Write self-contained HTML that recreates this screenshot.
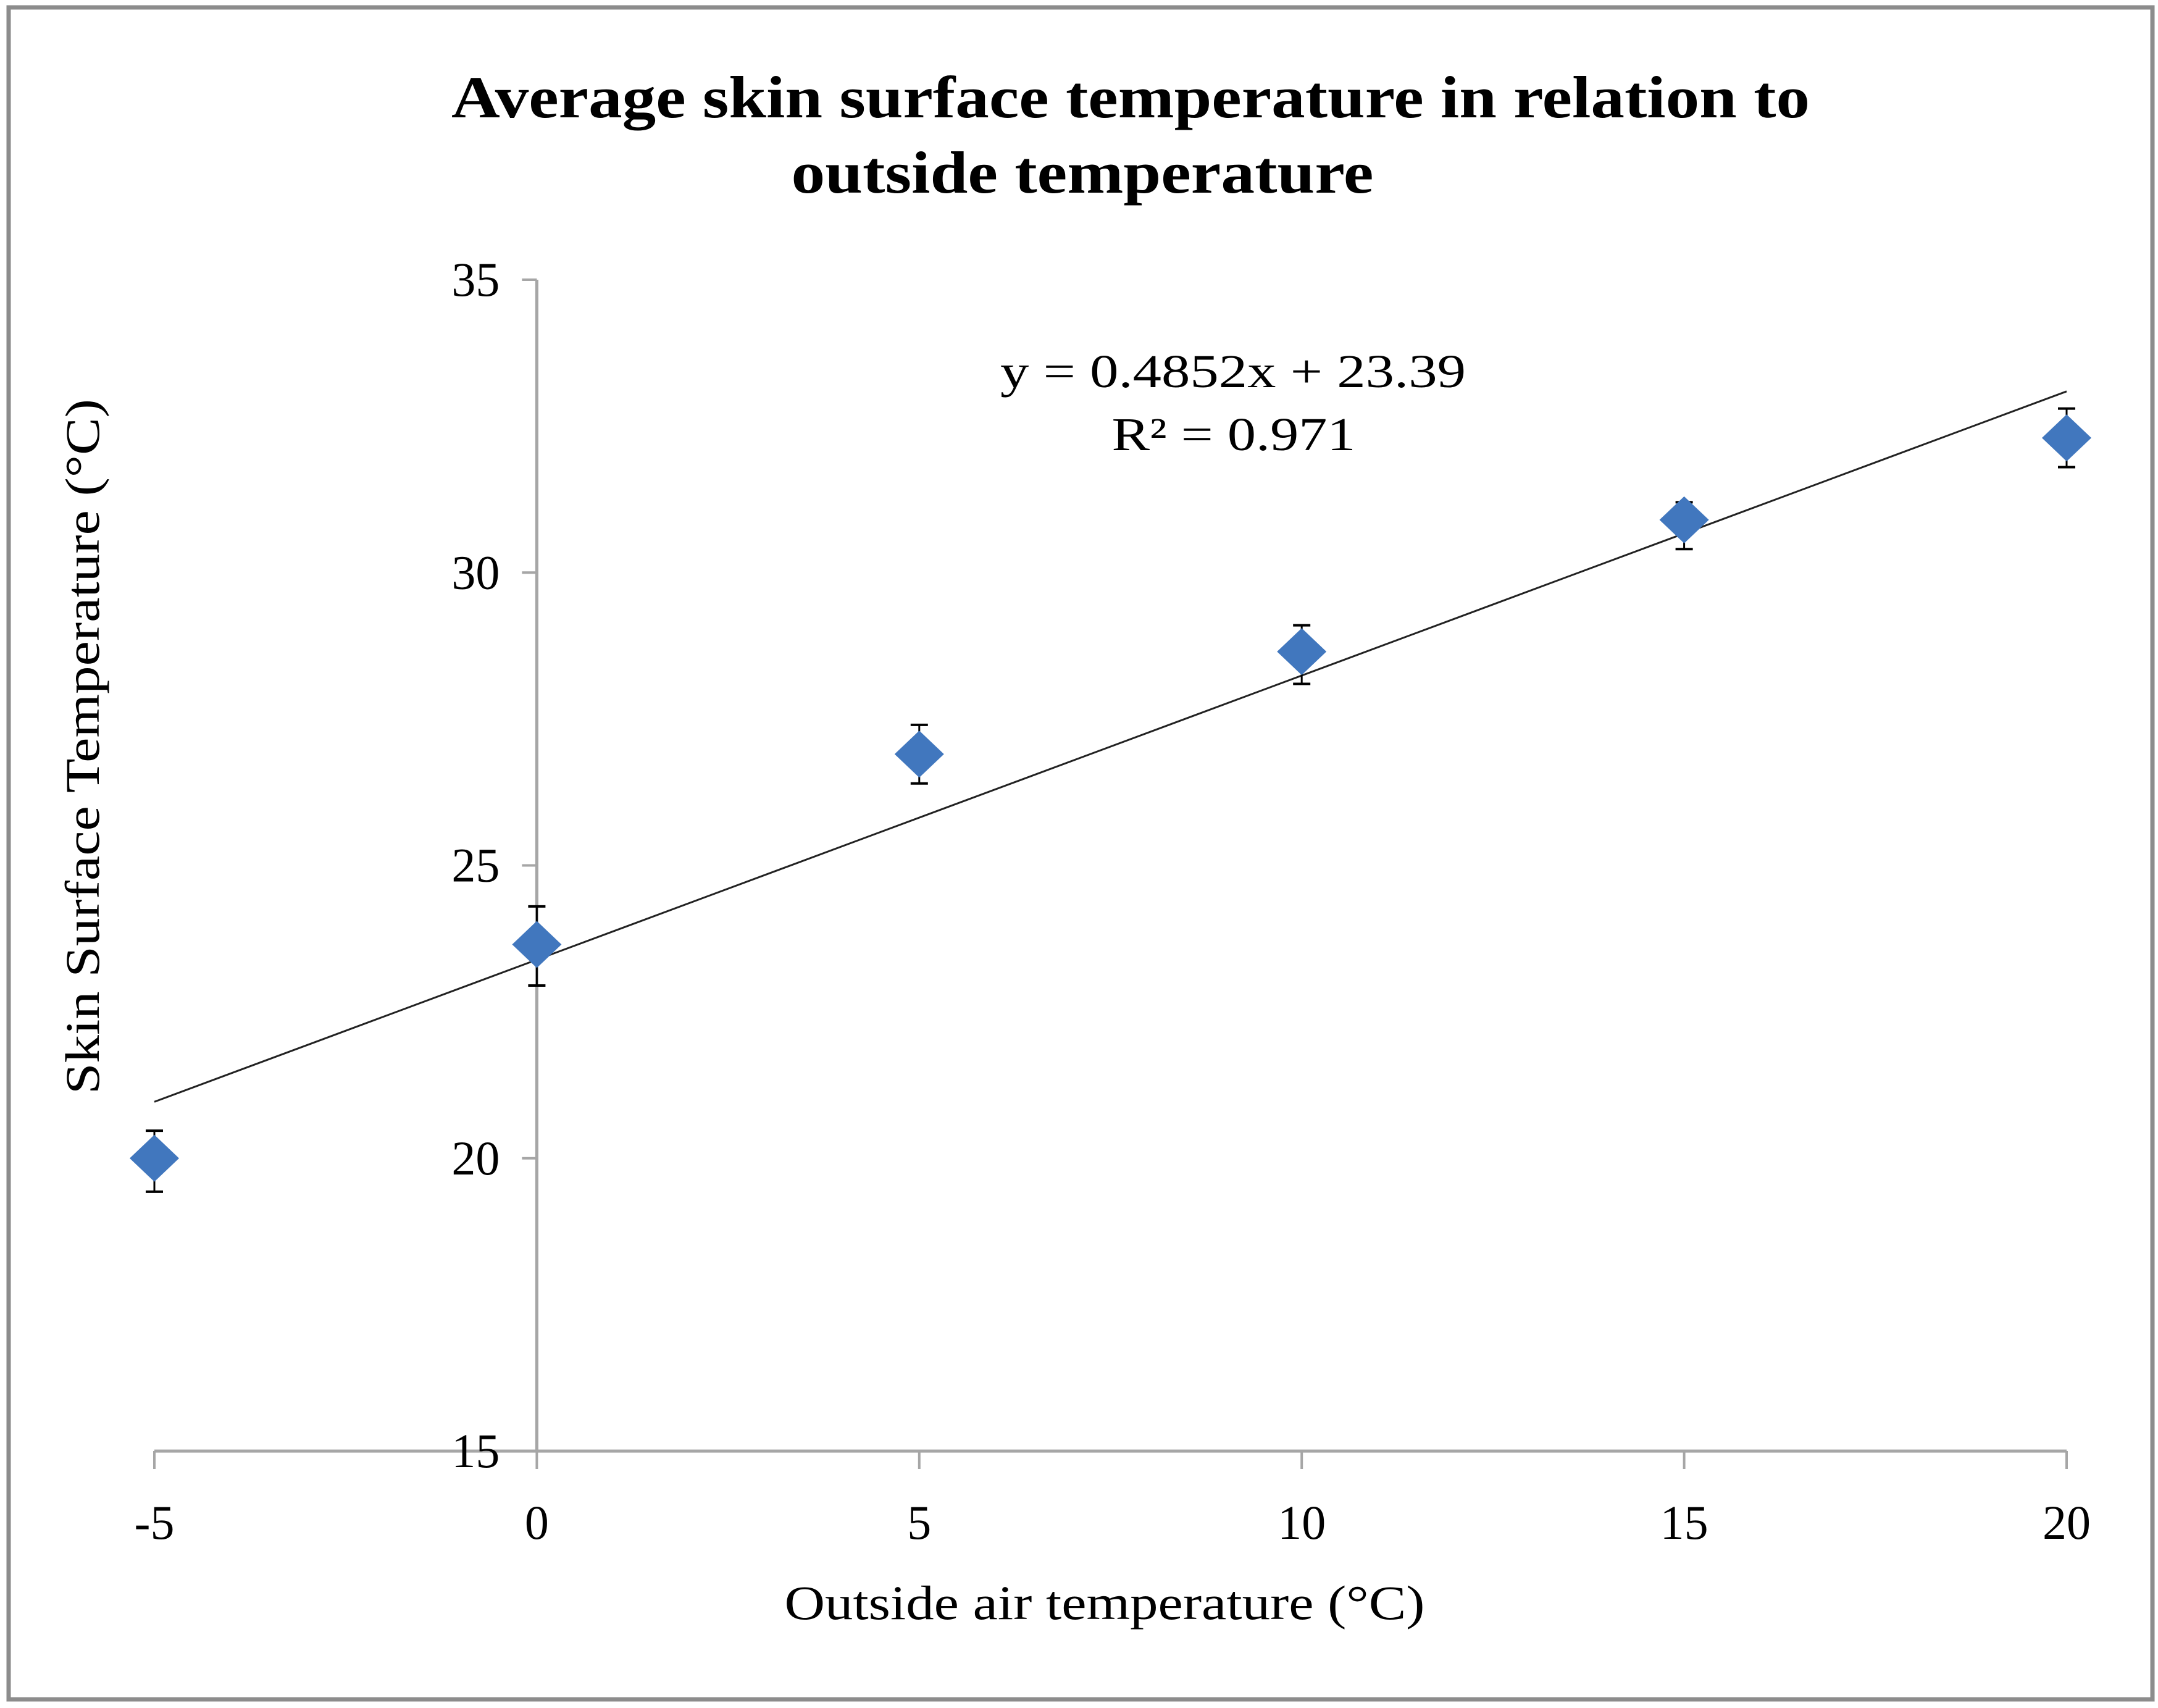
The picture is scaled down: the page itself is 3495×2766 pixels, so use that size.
<!DOCTYPE html>
<html><head><meta charset="utf-8"><style>
html,body{margin:0;padding:0;background:#fff;}
svg{display:block;}
text{font-family:"Liberation Serif",serif;fill:#000;}
</style></head><body>
<svg id="chart" width="3495" height="2766" viewBox="0 0 3495 2766" xmlns="http://www.w3.org/2000/svg">
<rect x="14" y="12" width="3472" height="2740" fill="#fff" stroke="#8c8c8c" stroke-width="7"/>
<text x="1831" y="190" font-size="96" font-weight="bold" text-anchor="middle" textLength="2200" lengthAdjust="spacingAndGlyphs">Average skin surface temperature in relation to</text>
<text x="1753" y="312" font-size="96" font-weight="bold" text-anchor="middle" textLength="943" lengthAdjust="spacingAndGlyphs">outside temperature</text>
<text font-size="78" text-anchor="middle" textLength="1126" lengthAdjust="spacingAndGlyphs" transform="translate(160,1209) rotate(-90)">Skin Surface Temperature (°C)</text>
<text x="1789" y="2622" font-size="78" text-anchor="middle" textLength="1037" lengthAdjust="spacingAndGlyphs">Outside air temperature (°C)</text>
<text x="1997" y="627" font-size="76" text-anchor="middle" textLength="754" lengthAdjust="spacingAndGlyphs">y = 0.4852x + 23.39</text>
<text x="1998" y="729" font-size="76" text-anchor="middle" textLength="395" lengthAdjust="spacingAndGlyphs">R² = 0.971</text>
<g id="axes"></g>
<g id="marks"></g>
</svg>
<script>
const xTicks=[-5,0,5,10,15,20];
const yTicks=[15,20,25,30,35];
const xVals=[-5,0,5,10,15,20];
const yVals=[20.0,23.65,26.9,28.65,30.9,32.3];
const errHi=[20.47,24.3,27.4,29.1,31.2,32.8];
const errLo=[19.43,22.95,26.4,28.1,30.4,31.8];
const slope=0.4852, intercept=23.39;
const NS='http://www.w3.org/2000/svg';
const X=v=>250+(v+5)*(3347-250)/25;
const Y=v=>2350-(v-15)*(2350-453)/20;
function mk(tag,attrs,parent){const e=document.createElementNS(NS,tag);for(const k in attrs)e.setAttribute(k,attrs[k]);parent.appendChild(e);return e;}
const axes=document.getElementById('axes'), marks=document.getElementById('marks');
let e;
e=mk('line',{x1:X(-5),y1:Y(15),x2:X(20),y2:Y(15),stroke:'#a6a6a6','stroke-width':5},axes);


e=mk('line',{x1:X(0),y1:Y(35),x2:X(0),y2:Y(15),stroke:'#a6a6a6','stroke-width':5},axes);


xTicks.forEach(t=>{
 let l=mk('line',{x1:X(t),y1:Y(15),x2:X(t),y2:Y(15)+29,stroke:'#a6a6a6','stroke-width':4},axes);
 
 
 let tx=mk('text',{x:X(t),y:2492,'font-size':78,'text-anchor':'middle'},axes);tx.textContent=t;
 
 
});
yTicks.forEach(t=>{
 let l=mk('line',{x1:X(0)-24,y1:Y(t),x2:X(0),y2:Y(t),stroke:'#a6a6a6','stroke-width':4},axes);
 
 
 let tx=mk('text',{x:X(0)-60,y:Y(t)+26,'font-size':78,'text-anchor':'end'},axes);tx.textContent=t;
 
 
});
e=mk('line',{x1:X(-5),y1:Y(slope*-5+intercept),x2:X(20),y2:Y(slope*20+intercept),stroke:'#222','stroke-width':3},marks);


xVals.forEach((xv,i)=>{
 const cx=X(xv);
 let g=mk('g',{},marks);
 
 
 mk('line',{x1:cx,y1:Y(errHi[i]),x2:cx,y2:Y(errLo[i]),stroke:'#000','stroke-width':3},g);
 mk('line',{x1:cx-14,y1:Y(errHi[i]),x2:cx+14,y2:Y(errHi[i]),stroke:'#000','stroke-width':4},g);
 mk('line',{x1:cx-14,y1:Y(errLo[i]),x2:cx+14,y2:Y(errLo[i]),stroke:'#000','stroke-width':4},g);
 const cy=Y(yVals[i]);
 let p=mk('polygon',{points:`${cx-40},${cy} ${cx},${cy-38} ${cx+40},${cy} ${cx},${cy+38}`,fill:'#4177be'},marks);
 
 
});
</script>
</body></html>
